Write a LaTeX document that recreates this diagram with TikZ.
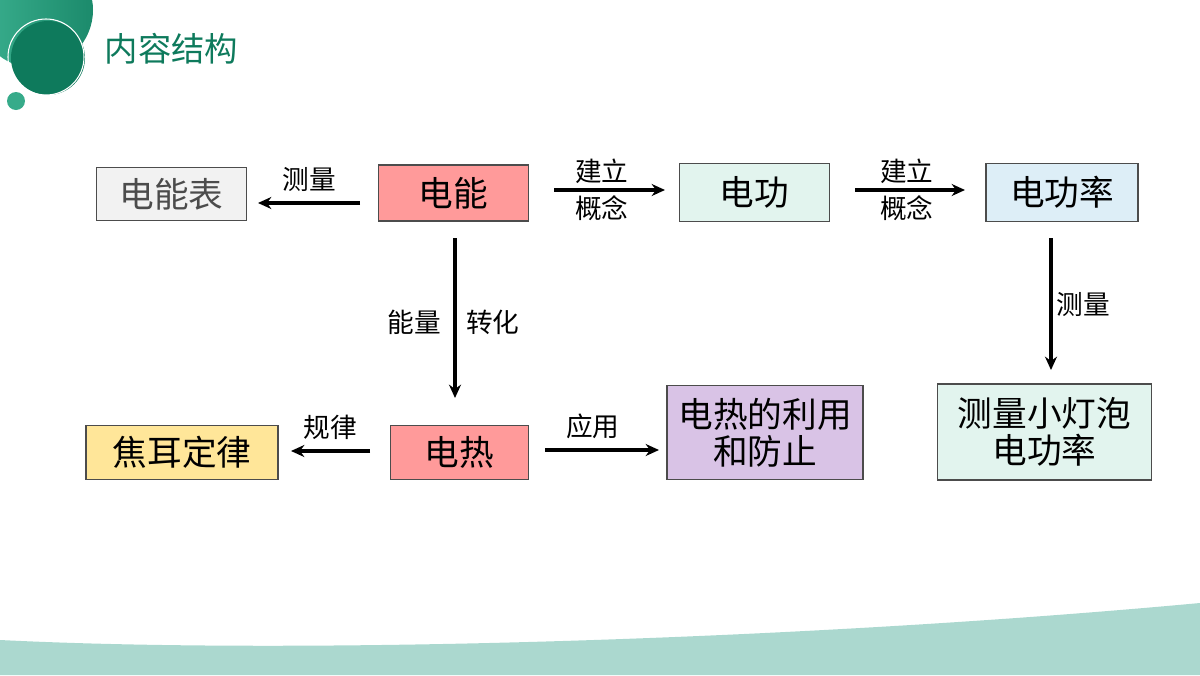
\documentclass[tikz,border=0pt]{standalone}
\usepackage{fontspec}
\setmainfont{Noto Sans CJK SC}
\usetikzlibrary{arrows.meta}
\definecolor{pinkbox}{HTML}{FF9A9A}
\definecolor{mintbox}{HTML}{E2F4EE}
\definecolor{bluebox}{HTML}{DDEEF7}
\definecolor{greybox}{HTML}{F2F2F2}
\definecolor{yellowbox}{HTML}{FFE699}
\definecolor{purplebox}{HTML}{D9C3E6}
\definecolor{teal1}{HTML}{0E7A5C}
\definecolor{teal2}{HTML}{3BB08F}
\definecolor{wave}{HTML}{ABD8CF}
\begin{document}
\begin{tikzpicture}[x=0.75pt, y=-0.75pt,
    box/.style = {draw=black!70, line width=0.9pt, inner sep=0pt, align=center,
                  font=\fontsize{26}{28}\selectfont},
    lbl/.style = {font=\fontsize{20}{22}\selectfont},
    arr/.style = {line width=2.3pt, -{Stealth[length=10pt, width=9pt]}}]
    \useasboundingbox (0,0) rectangle (1200,675);
    % background
    \fill[wave] (0,640) .. controls (300,655) and (800,640) .. (1200,603) -- (1200,675) -- (0,675) -- cycle;
    \shade[left color=teal2, right color=teal1!70!teal2] (35,10) circle (58);
    \fill[teal1] (48,58) circle (37);
    \draw[white, line width=0.8pt] (46,57) circle (38);
    \fill[teal2!90!teal1] (16,101) circle (9);
    \node[text=teal1, font=\fontsize{25}{27}\selectfont, anchor=west] (title) at (100,49) {内容结构};
    % boxes
    \node[box, fill=greybox, text=black!70, minimum width=113pt, minimum height=40pt] (meter) at (171.5,194) {电能表};
    \node[box, fill=pinkbox, minimum width=113pt, minimum height=42pt] (energy) at (453.5,193) {电能};
    \node[box, fill=mintbox, minimum width=113pt, minimum height=43pt] (work) at (754.5,192.5) {电功};
    \node[box, fill=bluebox, minimum width=114pt, minimum height=43pt] (power) at (1062,192.5) {电功率};
    \node[box, fill=pinkbox, minimum width=104pt, minimum height=41pt] (heat) at (459.5,452.5) {电热};
    \node[box, fill=yellowbox, minimum width=144pt, minimum height=41pt] (joule) at (182,452.5) {焦耳定律};
    \node[box, fill=purplebox, minimum width=147pt, minimum height=71pt] (use) at (765,432.5) {电热的利用\\和防止};
    \node[box, fill=mintbox, minimum width=161pt, minimum height=72pt] (lamp) at (1044.5,432) {测量小灯泡\\电功率};
    % connectors
    \coordinate (e1) at (360,203); \coordinate (m1) at (258,203);
    \draw[arr] (e1) -- (m1) node[lbl, midway, above=4pt] {测量};
    \coordinate (e2) at (554,190); \coordinate (w1) at (665,190);
    \draw[arr] (e2) -- (w1) node[lbl, pos=0.43, above=0pt] {建立} node[lbl, pos=0.43, below=0pt] {概念};
    \coordinate (w2) at (855,190); \coordinate (p1) at (965,190);
    \draw[arr] (w2) -- (p1) node[lbl, pos=0.47, above=0pt] {建立} node[lbl, pos=0.47, below=0pt] {概念};
    \coordinate (e3) at (455,238); \coordinate (h1) at (455,398);
    \draw[arr] (e3) -- (h1) node[lbl, pos=0.53, left=6pt] {能量} node[lbl, pos=0.53, right=4pt] {转化};
    \coordinate (p2) at (1051,238); \coordinate (l1) at (1051,370);
    \draw[arr] (p2) -- (l1) node[lbl, midway, right=0pt] {测量};
    \coordinate (h2) at (370,451); \coordinate (j1) at (291,451);
    \draw[arr] (h2) -- (j1) node[lbl, midway, above=4pt] {规律};
    \coordinate (h3) at (545,450); \coordinate (u1) at (659,450);
    \draw[arr] (h3) -- (u1) node[lbl, pos=0.42, above=4pt] {应用};
\end{tikzpicture}
\end{document}
